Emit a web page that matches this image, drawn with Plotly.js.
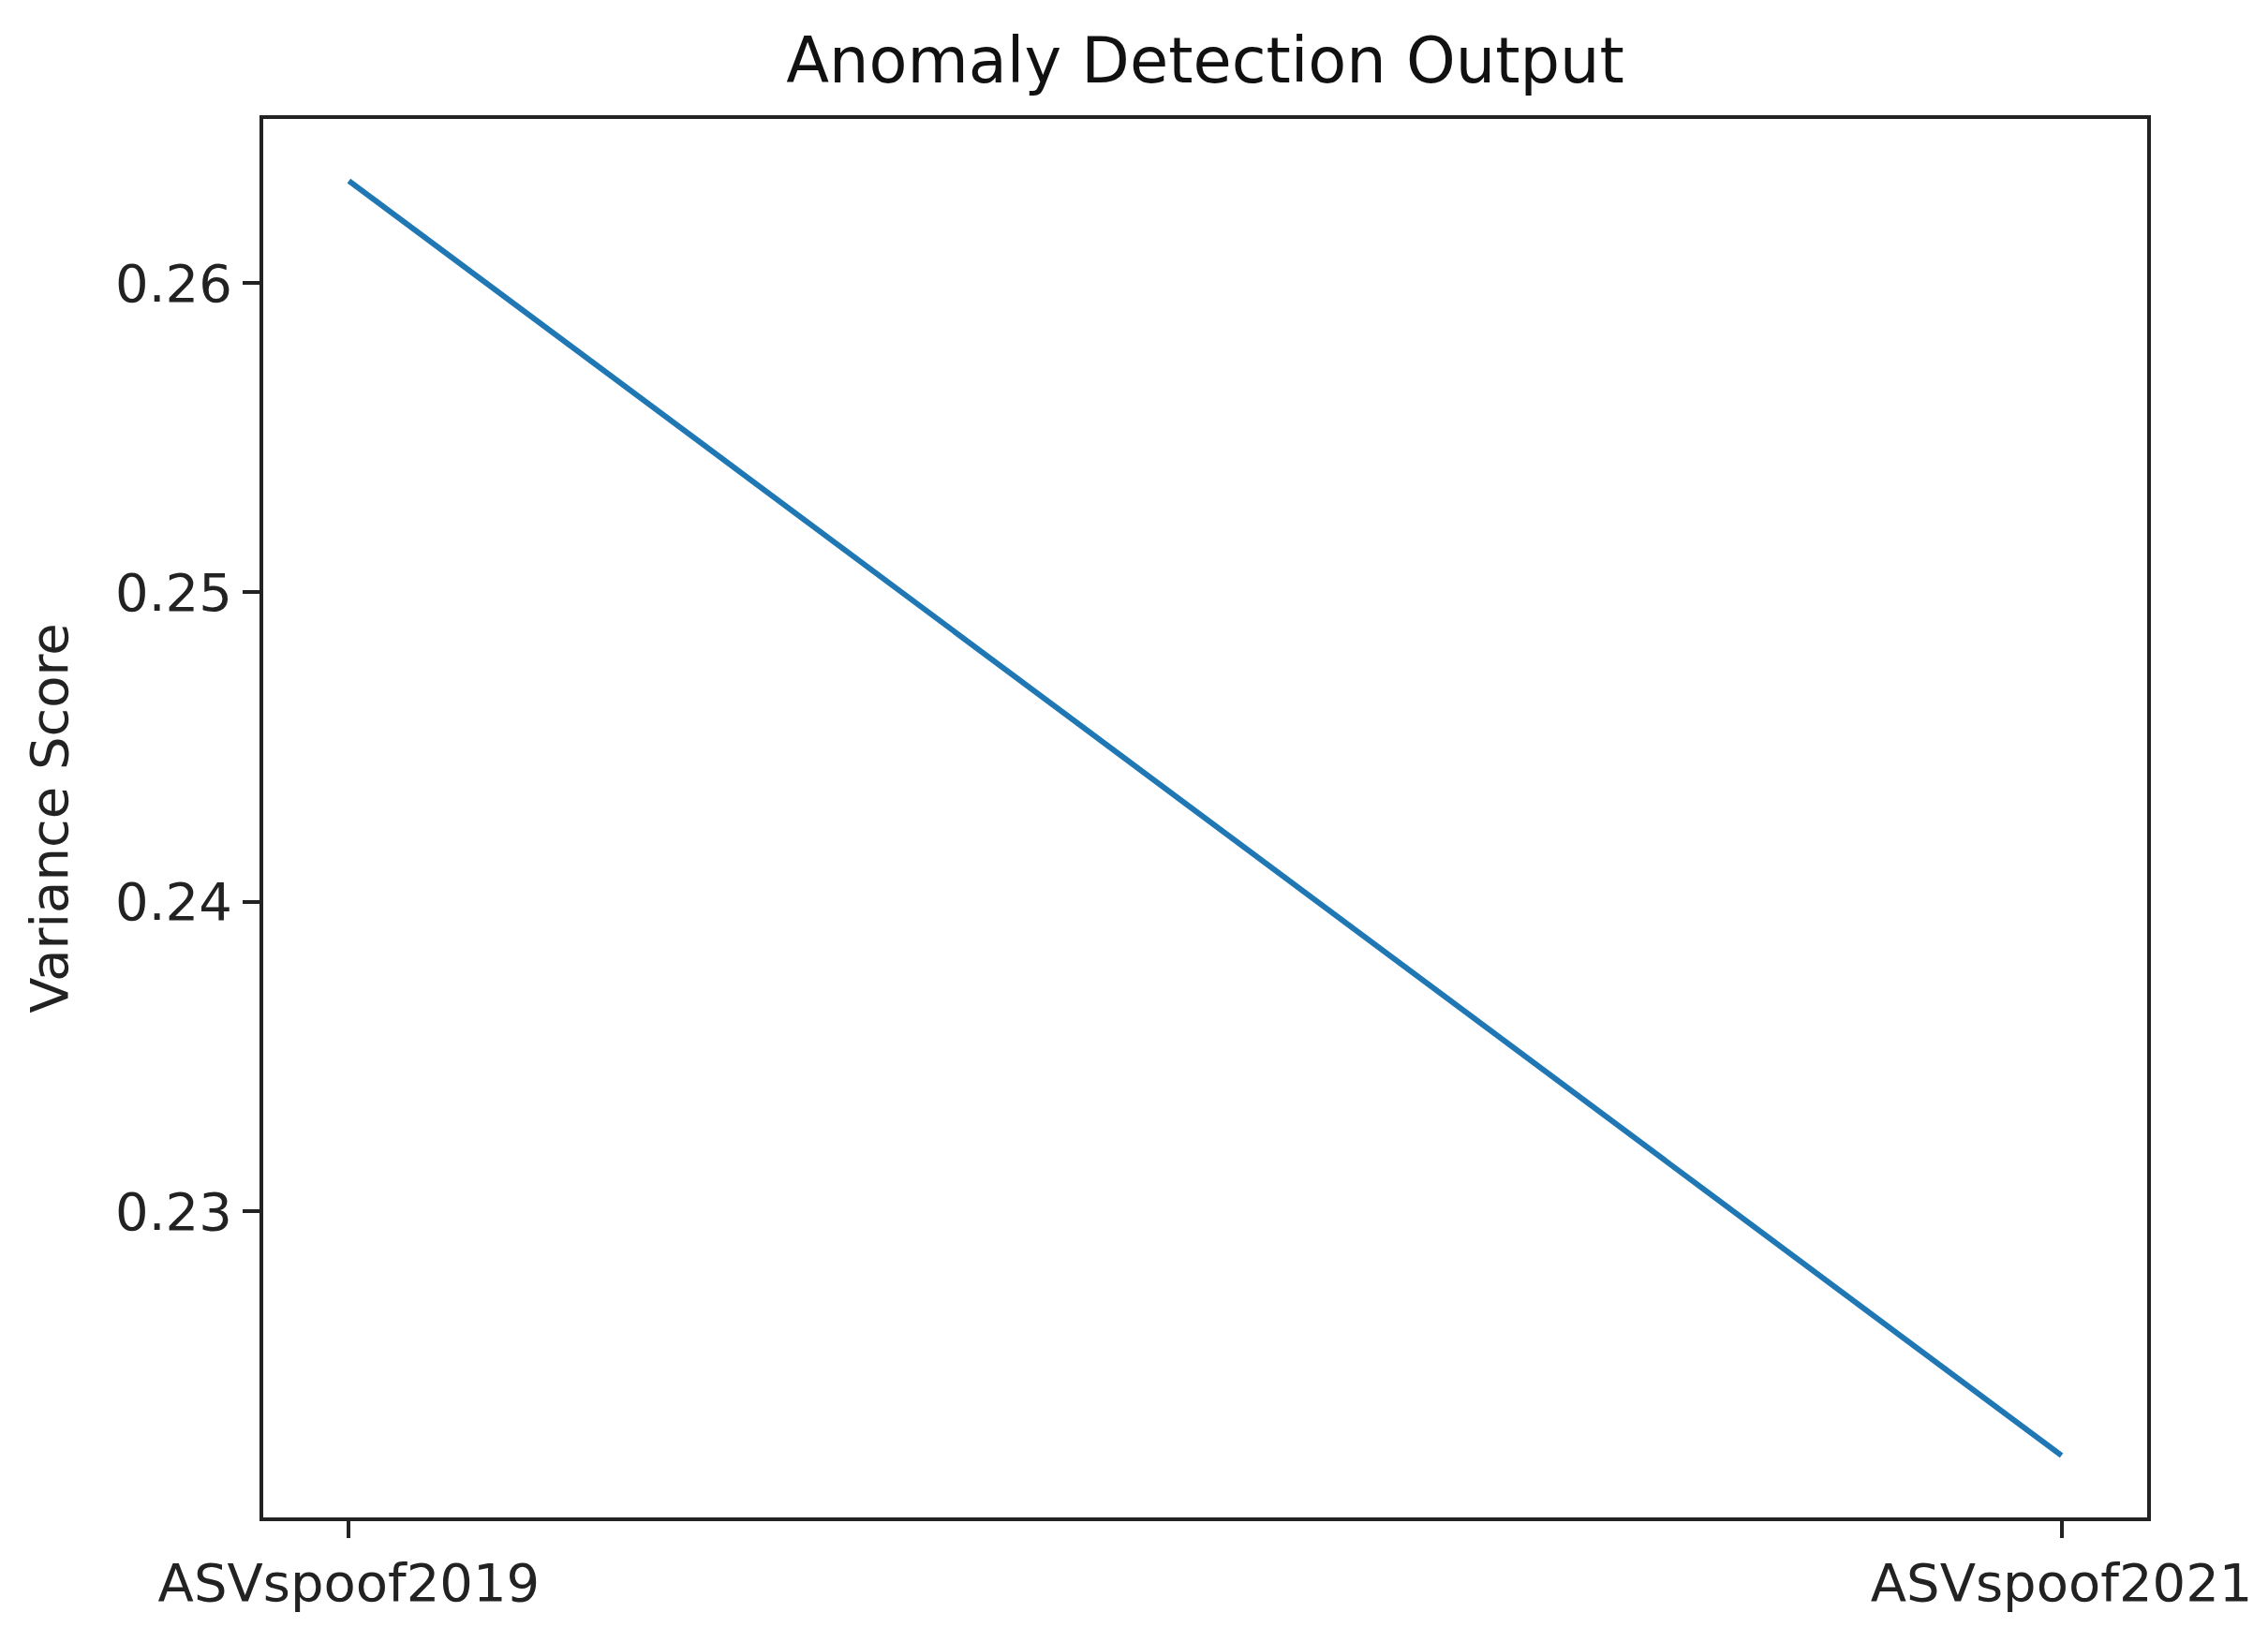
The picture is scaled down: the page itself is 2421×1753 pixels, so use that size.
<!DOCTYPE html>
<html>
<head>
<meta charset="utf-8">
<script src="https://cdn.plot.ly/plotly-3.0.1.min.js"></script>
<style>
  html, body { margin: 0; padding: 0; background: #fff; }
  #chart { width: 2421px; height: 1753px; }
</style>
</head>
<body>
<div id="chart"></div>
<script>
// datasets on the x axis and their variance scores
const datasets = ['ASVspoof2019', 'ASVspoof2021'];
const varianceScores = [0.2633, 0.2221];
const yTicks = [0.23, 0.24, 0.25, 0.26];

const trace = {
  x: datasets,
  y: varianceScores,
  mode: 'lines',
  type: 'scatter',
  line: { color: '#1f77b4', width: 6 },
  hoverinfo: 'skip'
};

const axisFont = { family: 'DejaVu Sans', size: 56, color: '#222' };

const layout = {
  width: 2421,
  height: 1753,
  margin: { l: 281, r: 129, t: 127, b: 133 },
  paper_bgcolor: '#fff',
  plot_bgcolor: '#fff',
  showlegend: false,
  font: axisFont,
  title: {
    text: 'Anomaly Detection Output',
    font: { family: 'DejaVu Sans', size: 67, color: '#111' },
    x: 0.5,
    xref: 'paper',
    y: 1 - 65 / 1753,
    yref: 'container',
    yanchor: 'middle'
  },
  xaxis: {
    type: 'category',
    range: [-0.05, 1.05],
    showgrid: false,
    zeroline: false,
    showline: true,
    mirror: true,
    linecolor: '#222',
    linewidth: 4,
    ticks: 'outside',
    ticklen: 18,
    tickwidth: 4,
    tickcolor: '#222',
    tickfont: axisFont
  },
  yaxis: {
    range: [0.2201, 0.2653],
    tickvals: yTicks,
    ticktext: yTicks.map(v => v.toFixed(2)),
    showgrid: false,
    zeroline: false,
    showline: true,
    mirror: true,
    linecolor: '#222',
    linewidth: 4,
    ticks: 'outside',
    ticklen: 18,
    tickwidth: 4,
    tickcolor: '#222',
    tickfont: axisFont,
    title: {
      text: 'Variance Score',
      font: axisFont,
      standoff: 34
    }
  }
};

Plotly.newPlot('chart', [trace], layout, { staticPlot: true, displayModeBar: false });
</script>
</body>
</html>
